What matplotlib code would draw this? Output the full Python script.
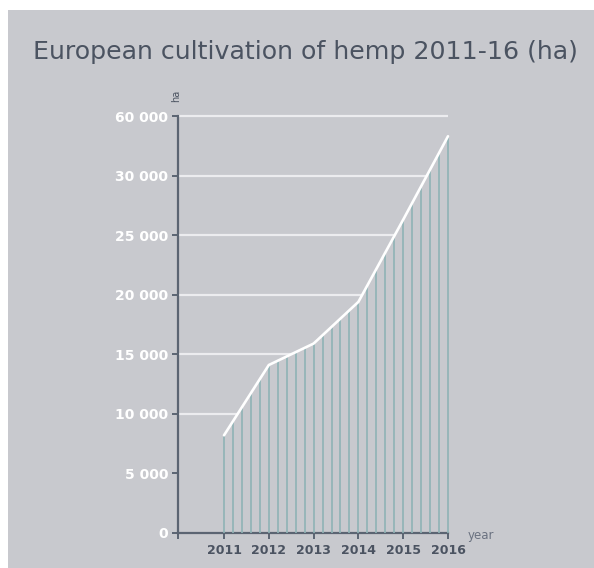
import numpy as np
import matplotlib
matplotlib.use("Agg")
import matplotlib.pyplot as plt
from matplotlib.patches import Rectangle

# Hemp cultivation area in Europe, hectares
years = [2011, 2012, 2013, 2014, 2015, 2016]
hectares = [8200, 14100, 15900, 19400, 26300, 33300]

ytick_values = [0, 5000, 10000, 15000, 20000, 25000, 30000, 35000]
ytick_labels = ["0", "5 000", "10 000", "15 000", "20 000", "25 000", "30 000", "60 000"]
grid_values = [10000, 15000, 20000, 25000, 30000, 35000]

BG = "#c8c9ce"
AXIS = "#5b6472"
TEXT_DARK = "#4b5361"
HATCH = "#8fb3b5"

W, H = 594, 568
fig = plt.figure(figsize=(W / 100, H / 100), dpi=100)
fig.patch.set_facecolor("white")
fig.patches.append(Rectangle((8 / W, 0), 1 - 8 / W, 1 - 10 / H,
                             transform=fig.transFigure, facecolor=BG,
                             edgecolor="none", zorder=-10))

fig.text(305 / W, 1 - 52 / H, "European cultivation of hemp 2011-16 (ha)",
         ha="center", va="center", fontsize=18.2, color=TEXT_DARK,
         family="DejaVu Sans")

left, right = 178 / W, 448 / W
bottom, top = 1 - 533 / H, 1 - 116 / H
ax = fig.add_axes([left, bottom, right - left, top - bottom])
ax.set_facecolor("none")

x0 = 2011 - (224 - 178) / 44.8
ax.set_xlim(x0, 2016)
ax.set_ylim(0, 35000)

# horizontal guides, hidden under the filled area
ax.hlines(grid_values, x0, 2016, color="#ececef", lw=1.6, zorder=1, clip_on=False)
ax.fill_between(years, 0, hectares, color=BG, zorder=2, lw=0)

# vertical hatching under the curve
hx = np.round(np.arange(2011, 2016.001, 0.2), 3)
hy = np.interp(hx, years, hectares)
ax.vlines(hx, 0, hy, color=HATCH, lw=1.2, zorder=3, clip_on=False)

ax.plot(years, hectares, color="white", lw=1.9, zorder=4, clip_on=False,
        solid_capstyle="round", solid_joinstyle="round")

for s in ["top", "right"]:
    ax.spines[s].set_visible(False)
for s in ["left", "bottom"]:
    ax.spines[s].set_color(AXIS)
    ax.spines[s].set_linewidth(1.6)

ax.set_yticks(ytick_values)
ax.set_yticklabels(ytick_labels)
ax.tick_params(axis="y", length=4, width=1.4, color=AXIS, pad=3,
               labelsize=10, labelcolor="white")
for lab in ax.get_yticklabels():
    lab.set_fontweight("bold")

ax.set_xticks([x0] + years)
ax.set_xticklabels([""] + [str(y) for y in years])
ax.tick_params(axis="x", length=4, width=1.4, color=AXIS, pad=4,
               labelsize=9, labelcolor=TEXT_DARK)
for lab in ax.get_xticklabels():
    lab.set_fontweight("bold")

fig.text(468 / W, 1 - 535 / H, "year", ha="left", va="center",
         fontsize=8.5, color="#6a7180")
fig.text(176 / W, 1 - 96 / H, "ha", ha="center", va="center",
         fontsize=7, color=TEXT_DARK, rotation=90)

fig.savefig("out.png", dpi=100, facecolor=fig.get_facecolor())
